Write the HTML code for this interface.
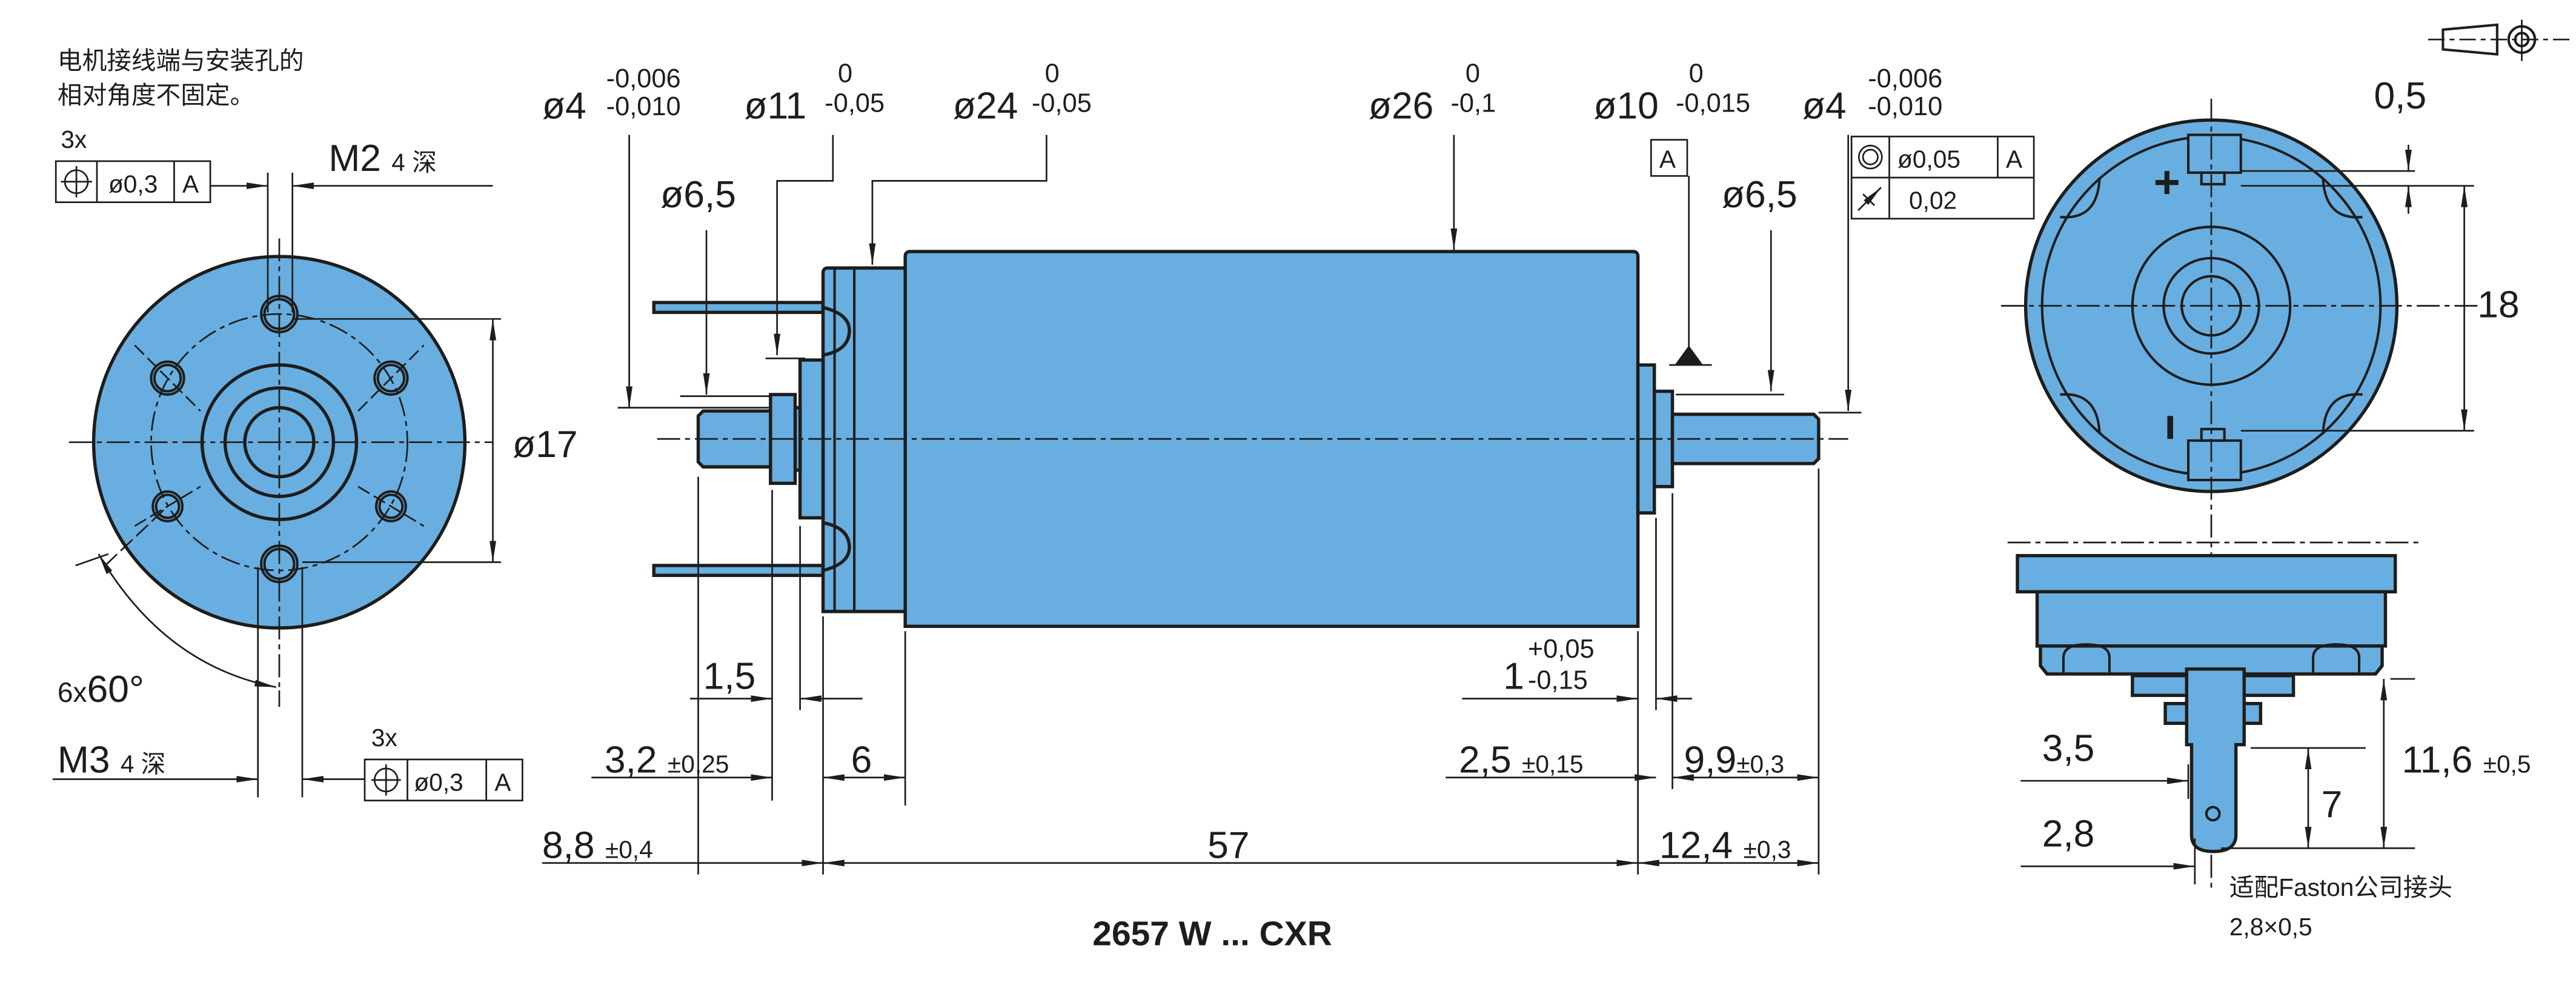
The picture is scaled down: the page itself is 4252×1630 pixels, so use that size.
<!DOCTYPE html>
<html><head><meta charset="utf-8"><style>
html,body{margin:0;padding:0;background:#fff;}
svg{display:block}
text{font-family:"Liberation Sans","Noto Sans CJK SC",sans-serif;fill:#1d1d1b}
</style></head><body>
<svg width="4252" height="1630" viewBox="0 0 1568 601" xmlns="http://www.w3.org/2000/svg">
<defs>
<marker id="a" markerUnits="userSpaceOnUse" markerWidth="14" markerHeight="6" refX="13" refY="3" orient="auto"><path d="M0,1 L13,3 L0,5 Z" fill="#1d1d1b"/></marker>
<marker id="b" markerUnits="userSpaceOnUse" markerWidth="14" markerHeight="6" refX="0" refY="3" orient="auto"><path d="M13,1 L0,3 L13,5 Z" fill="#1d1d1b"/></marker>
</defs>
<g stroke="#1d1d1b" fill="none" stroke-width="1">
<!-- LEFT VIEW -->
<circle cx="170" cy="269" r="113" fill="#69aee0" stroke-width="2"/>
<circle cx="170" cy="269" r="78" stroke-dasharray="12,3,3,3"/>
<circle cx="170" cy="269" r="47" stroke-width="2"/>
<circle cx="170" cy="269" r="33" stroke-width="2"/>
<circle cx="170" cy="269" r="21" stroke-width="2"/>
<g stroke-width="1.5">
<circle cx="170" cy="191" r="9"/><circle cx="170" cy="191" r="11"/>
<circle cx="170" cy="343" r="9"/><circle cx="170" cy="343" r="11"/>
<circle cx="102" cy="230" r="8"/><circle cx="102" cy="230" r="10"/>
<circle cx="238" cy="230" r="8"/><circle cx="238" cy="230" r="10"/>
<circle cx="102" cy="308" r="7"/><circle cx="102" cy="308" r="9"/>
<circle cx="238" cy="308" r="7"/><circle cx="238" cy="308" r="9"/>
</g>
<line x1="42" y1="269" x2="300" y2="269" stroke-dasharray="14,3,3,3"/>
<line x1="170" y1="145" x2="170" y2="420" stroke-dasharray="14,3,3,3"/>
<line x1="82" y1="210" x2="122" y2="250" stroke-dasharray="8,3"/><line x1="218" y1="250" x2="258" y2="210" stroke-dasharray="8,3"/>
<line x1="82" y1="320" x2="122" y2="296" stroke-dasharray="8,3"/><line x1="218" y1="296" x2="258" y2="320" stroke-dasharray="8,3"/>
<line x1="64" y1="344" x2="102" y2="308" stroke-dasharray="10,3"/>
<!-- M2 -->
<line x1="163" y1="105" x2="163" y2="190"/><line x1="178" y1="105" x2="178" y2="190"/>
<line x1="128" y1="113" x2="163" y2="113" marker-end="url(#a)"/>
<line x1="300" y1="113" x2="178" y2="113" marker-end="url(#a)"/>
<rect x="34" y="98" width="94" height="25"/><line x1="59" y1="98" x2="59" y2="123"/><line x1="106" y1="98" x2="106" y2="123"/>
<circle cx="46.5" cy="110.5" r="7"/><line x1="37" y1="110.5" x2="56" y2="110.5"/><line x1="46.5" y1="101" x2="46.5" y2="120"/>
<!-- o17 -->
<line x1="178" y1="194" x2="305" y2="194"/><line x1="184" y1="342" x2="305" y2="342"/>
<line x1="300" y1="268" x2="300" y2="194" marker-end="url(#a)"/><line x1="300" y1="268" x2="300" y2="342" marker-end="url(#a)"/>
<!-- angle -->
<line x1="46" y1="344" x2="66" y2="337"/>
<path d="M60,337 Q100,405 168,418" marker-start="url(#b)" marker-end="url(#a)"/>
<!-- M3 -->
<line x1="157" y1="345" x2="157" y2="485"/><line x1="184" y1="345" x2="184" y2="485"/><line x1="170" y1="420" x2="170" y2="430"/>
<line x1="32" y1="474" x2="157" y2="474" marker-end="url(#a)"/>
<line x1="222" y1="474" x2="184" y2="474" marker-end="url(#a)"/>
<rect x="222" y="462" width="96" height="25"/><line x1="248" y1="462" x2="248" y2="487"/><line x1="296" y1="462" x2="296" y2="487"/>
<circle cx="235" cy="474.5" r="7"/><line x1="226" y1="474.5" x2="244" y2="474.5"/><line x1="235" y1="465" x2="235" y2="484"/>

<!-- SIDE VIEW -->
<g stroke-width="2" fill="#69aee0">
<rect x="398" y="184" width="103" height="6"/>
<rect x="398" y="344" width="103" height="6"/>
<path d="M551,381 L551,156 Q551,153 554,153 L994,153 Q997,153 997,156 L997,381 Z"/>
<path d="M501,372 L501,166 Q501,163 504,163 L551,163 L551,372 Z"/>
<path d="M501,187 Q517,191 517,201 Q517,213 501,216 Z"/>
<path d="M501,318 Q517,321 517,333 Q517,343 501,347 Z"/>
<rect x="487" y="219" width="14" height="96"/>
<rect x="484" y="248" width="3" height="38"/>
<rect x="469" y="240" width="15" height="54"/>
<path d="M469,250 L428,250 L425,253 L425,281 L428,284 L469,284 Z"/>
<rect x="997" y="222" width="10" height="90"/>
<rect x="1007" y="238" width="11" height="58"/>
<path d="M1018,252 L1104,252 L1107,255 L1107,279 L1104,282 L1018,282 Z"/>
</g>
<line x1="508" y1="163" x2="508" y2="372" stroke-width="1.5"/><line x1="520" y1="163" x2="520" y2="372" stroke-width="1.5"/>
<line x1="400" y1="267" x2="1125" y2="267" stroke-dasharray="14,3,3,3"/>
<!-- top leaders -->
<line x1="383" y1="82" x2="383" y2="248" marker-end="url(#a)"/><line x1="376" y1="248" x2="468" y2="248"/>
<polyline points="507,82 507,110 473,110 473,216" marker-end="url(#a)"/><line x1="466" y1="218" x2="490" y2="218"/>
<line x1="430" y1="140" x2="430" y2="240" marker-end="url(#a)"/><line x1="414" y1="241" x2="470" y2="241"/>
<polyline points="637,82 637,110 531,110 531,161" marker-end="url(#a)"/>
<line x1="885" y1="82" x2="885" y2="152" marker-end="url(#a)"/>
<line x1="1028" y1="107" x2="1028" y2="214"/><path d="M1020,222 L1028,211 L1036,222 Z" fill="#1d1d1b"/><line x1="1016" y1="222" x2="1042" y2="222"/>
<rect x="1005" y="85" width="22" height="22"/>
<line x1="1125" y1="82" x2="1125" y2="250" marker-end="url(#a)"/><line x1="1107" y1="251" x2="1133" y2="251"/>
<line x1="1078" y1="140" x2="1078" y2="238" marker-end="url(#a)"/><line x1="1020" y1="240" x2="1086" y2="240"/>
<rect x="1127" y="83" width="111" height="50"/><line x1="1127" y1="108" x2="1238" y2="108"/><line x1="1150" y1="83" x2="1150" y2="133"/><line x1="1216" y1="83" x2="1216" y2="108"/>
<circle cx="1138.5" cy="95.5" r="7"/><circle cx="1138.5" cy="95.5" r="4.5"/>
<line x1="1131" y1="128" x2="1145" y2="114" marker-end="url(#a)"/><line x1="1134" y1="118" x2="1141" y2="125"/>
<!-- bottom dims -->
<line x1="425" y1="290" x2="425" y2="532"/><line x1="470" y1="298" x2="470" y2="487"/><line x1="487" y1="320" x2="487" y2="432"/>
<line x1="501" y1="375" x2="501" y2="532"/><line x1="551" y1="384" x2="551" y2="490"/><line x1="997" y1="384" x2="997" y2="532"/>
<line x1="1008" y1="315" x2="1008" y2="432"/><line x1="1018" y1="300" x2="1018" y2="480"/><line x1="1107" y1="285" x2="1107" y2="532"/>
<line x1="420" y1="425" x2="470" y2="425" marker-end="url(#a)"/><line x1="525" y1="425" x2="487" y2="425" marker-end="url(#a)"/>
<line x1="360" y1="473" x2="470" y2="473" marker-end="url(#a)"/>
<line x1="526" y1="473" x2="501" y2="473" marker-end="url(#a)"/><line x1="526" y1="473" x2="551" y2="473" marker-end="url(#a)"/>
<line x1="330" y1="525" x2="501" y2="525" marker-end="url(#a)"/>
<line x1="750" y1="525" x2="501" y2="525" marker-end="url(#a)"/><line x1="750" y1="525" x2="997" y2="525" marker-end="url(#a)"/>
<line x1="1050" y1="525" x2="997" y2="525" marker-end="url(#a)"/><line x1="1050" y1="525" x2="1107" y2="525" marker-end="url(#a)"/>
<line x1="880" y1="473" x2="1008" y2="473" marker-end="url(#a)"/>
<line x1="1060" y1="473" x2="1018" y2="473" marker-end="url(#a)"/><line x1="1060" y1="473" x2="1107" y2="473" marker-end="url(#a)"/>
<line x1="890" y1="425" x2="997" y2="425" marker-end="url(#a)"/><line x1="1030" y1="425" x2="1008" y2="425" marker-end="url(#a)"/>

<!-- RIGHT TOP VIEW -->
<circle cx="1346" cy="186" r="113" fill="#69aee0" stroke-width="2"/>
<circle cx="1346" cy="186" r="103" stroke-width="1.5"/>
<circle cx="1346" cy="186" r="48" stroke-width="1.5"/>
<circle cx="1346" cy="186" r="29" stroke-width="1.5"/>
<circle cx="1346" cy="186" r="18" stroke-width="1.5"/>
<g stroke-width="1.5">
<path d="M1254,132 Q1277,134 1278,108"/><path d="M1438,132 Q1415,134 1414,108"/>
<path d="M1254,240 Q1277,238 1278,264"/><path d="M1438,240 Q1415,238 1414,264"/>
<rect x="1332" y="82" width="32" height="23" fill="#69aee0"/><rect x="1340" y="105" width="14" height="7"/>
<rect x="1332" y="268" width="32" height="24" fill="#69aee0"/><rect x="1340" y="261" width="14" height="7"/>
</g>
<path d="M1312,111 h14 M1319,104 v14" stroke-width="3"/><line x1="1321" y1="253" x2="1321" y2="267" stroke-width="3.5"/>
<line x1="1346" y1="60" x2="1346" y2="540" stroke-dasharray="14,3,3,3"/>
<line x1="1218" y1="186" x2="1510" y2="186" stroke-dasharray="14,3,3,3"/>
<line x1="1364" y1="104" x2="1470" y2="104"/><line x1="1364" y1="113" x2="1506" y2="113"/><line x1="1364" y1="262" x2="1506" y2="262"/>
<line x1="1466" y1="88" x2="1466" y2="104" marker-end="url(#a)"/><line x1="1466" y1="130" x2="1466" y2="113" marker-end="url(#a)"/>
<line x1="1500" y1="188" x2="1500" y2="113" marker-end="url(#a)"/><line x1="1500" y1="188" x2="1500" y2="262" marker-end="url(#a)"/>
<!-- symbol -->
<line x1="1478" y1="24" x2="1564" y2="24" stroke-dasharray="10,3,3,3"/>
<path d="M1487,18 L1520,15 L1520,33 L1487,30 Z" stroke-width="1.5"/>
<circle cx="1535" cy="24" r="8" stroke-width="1.5"/><circle cx="1535" cy="24" r="4" stroke-width="1.5"/><line x1="1535" y1="12" x2="1535" y2="37"/>
<!-- RIGHT BOTTOM VIEW -->
<line x1="1222" y1="330" x2="1475" y2="330" stroke-dasharray="14,3,3,3"/>
<g stroke-width="2" fill="#69aee0">
<path d="M1228,338 L1458,338 L1458,360 L1228,360 Z"/>
<path d="M1240,360 L1452,360 L1452,393 L1240,393 Z"/>
<path d="M1242,393 L1450,393 L1450,405 L1446,410 L1246,410 L1242,405 Z"/>
<rect x="1298" y="411" width="98" height="12"/>
<rect x="1318" y="428" width="58" height="12"/>
<path d="M1331,407 L1366,407 L1366,453 L1361,453 L1361,508 Q1361,518 1347,518 Q1334,518 1334,508 L1334,453 L1331,453 Z"/>
</g>
<g stroke-width="1.5"><path d="M1256,409 L1256,400 Q1256,392 1270,392 Q1284,392 1284,400 L1284,409"/><path d="M1408,409 L1408,400 Q1408,392 1422,392 Q1436,392 1436,400 L1436,409"/></g>
<circle cx="1347" cy="495" r="4" stroke-width="1.5"/>
<line x1="1230" y1="475" x2="1332" y2="475" marker-end="url(#a)"/><line x1="1332" y1="465" x2="1332" y2="486"/>
<line x1="1230" y1="527" x2="1336" y2="527" marker-end="url(#a)"/><line x1="1336" y1="510" x2="1336" y2="538"/>
<line x1="1370" y1="455" x2="1440" y2="455"/><line x1="1352" y1="516" x2="1470" y2="516"/><line x1="1455" y1="413" x2="1470" y2="413"/>
<line x1="1405" y1="485" x2="1405" y2="455" marker-end="url(#a)"/><line x1="1405" y1="485" x2="1405" y2="516" marker-end="url(#a)"/>
<line x1="1451" y1="465" x2="1451" y2="413" marker-end="url(#a)"/><line x1="1451" y1="465" x2="1451" y2="516" marker-end="url(#a)"/>
</g>
<!-- TEXT -->
<g font-size="15">
<text x="35" y="42">电机接线端与安装孔的</text>
<text x="35" y="63">相对角度不固定。</text>
<text x="37" y="90">3x</text>
<text x="66" y="117">ø0,3</text><text x="111" y="117">A</text>
<text x="226" y="454">3x</text>
<text x="252" y="481">ø0,3</text><text x="301" y="481">A</text>
<text x="1010" y="102">A</text>
<text x="1155" y="102">ø0,05</text><text x="1221" y="102">A</text>
<text x="1162" y="127">0,02</text>
<text x="1357" y="545">适配Faston公司接头</text>
<text x="1357" y="569">2,8×0,5</text>
</g>
<g font-size="23">
<text x="200" y="104">M2 <tspan font-size="15">4 深</tspan></text>
<text x="312" y="278">ø17</text>
<text x="35" y="427"><tspan font-size="17">6x</tspan>60°</text>
<text x="35" y="470">M3 <tspan font-size="15">4 深</tspan></text>
<text x="330" y="72">ø4</text><text x="453" y="72">ø11</text><text x="580" y="72">ø24</text>
<text x="833" y="72">ø26</text><text x="970" y="72">ø10</text><text x="1097" y="72">ø4</text>
<text x="402" y="126">ø6,5</text><text x="1048" y="126">ø6,5</text>
<text x="428" y="419">1,5</text>
<text x="368" y="470">3,2 <tspan font-size="15">±0,25</tspan></text>
<text x="518" y="470">6</text>
<text x="330" y="522">8,8 <tspan font-size="15">±0,4</tspan></text>
<text x="735" y="522">57</text>
<text x="1010" y="522">12,4 <tspan font-size="15">±0,3</tspan></text>
<text x="888" y="470">2,5 <tspan font-size="15">±0,15</tspan></text>
<text x="1025" y="470">9,9<tspan font-size="15">±0,3</tspan></text>
<text x="915" y="419">1</text>
<text x="1445" y="66">0,5</text>
<text x="1508" y="193">18</text>
<text x="1243" y="463">3,5</text>
<text x="1243" y="515">2,8</text>
<text x="1413" y="497">7</text>
<text x="1462" y="470">11,6 <tspan font-size="15">±0,5</tspan></text>
</g>
<g font-size="16">
<text x="369" y="53">-0,006</text><text x="369" y="70">-0,010</text>
<text x="510" y="50">0</text><text x="502" y="68">-0,05</text>
<text x="636" y="50">0</text><text x="628" y="68">-0,05</text>
<text x="892" y="50">0</text><text x="883" y="68">-0,1</text>
<text x="1028" y="50">0</text><text x="1020" y="68">-0,015</text>
<text x="1137" y="53">-0,006</text><text x="1137" y="70">-0,010</text>
<text x="930" y="400">+0,05</text><text x="930" y="419">-0,15</text>
</g>
<text x="665" y="575" font-size="21" font-weight="bold">2657 W ... CXR</text>
</svg>
</body></html>
